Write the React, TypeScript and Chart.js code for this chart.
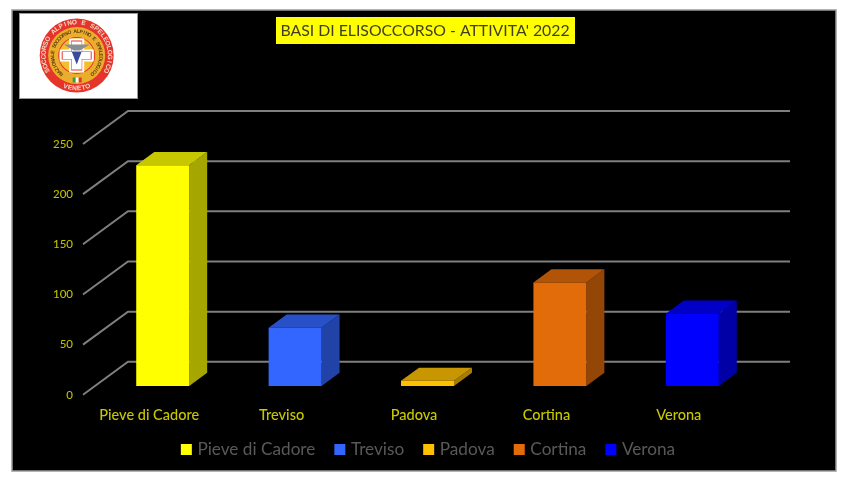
import React, { useEffect, useRef } from "react";
import { Chart, registerables } from "chart.js";

Chart.register(...registerables);

const categories = ["Pieve di Cadore", "Treviso", "Padova", "Cortina", "Verona"];
const values = [220, 58, 5, 103, 72];
const colors = ["#FFFF00", "#3366FF", "#FFC000", "#E36C0A", "#0000FF"];
const titleText = "BASI DI ELISOCCORSO - ATTIVITA' 2022";
const logoTop = "SOCCORSO ALPINO E SPELEOLOGICO";
const logoInner = "NAZIONALE SOCCORSO ALPINO E SPELEOLOGICO";
const logoBottom = "VENETO";

const DEPTH_X = 45;
const DEPTH_Y = 33;
const BAR_START_X = 0.3;
const BAR_START_Y = 0.27;
const BAR_DEPTH = 0.4;
const BAR_WIDTH = 0.4;

function shade(hex: string, f: number) {
  const n = parseInt(hex.slice(1), 16);
  const r = Math.round(((n >> 16) & 255) * f);
  const g = Math.round(((n >> 8) & 255) * f);
  const b = Math.round((n & 255) * f);
  return `rgb(${r},${g},${b})`;
}

function arcText(ctx: CanvasRenderingContext2D, text: string, cx: number, cy: number, r: number, span: number, bottom: boolean) {
  const n = text.length;
  for (let i = 0; i < n; i++) {
    const t = n > 1 ? i / (n - 1) - 0.5 : 0;
    ctx.save();
    if (bottom) {
      const a = Math.PI / 2 - t * span;
      ctx.translate(cx + r * Math.cos(a), cy + r * Math.sin(a));
      ctx.rotate(a - Math.PI / 2);
    } else {
      const a = -Math.PI / 2 + t * span;
      ctx.translate(cx + r * Math.cos(a), cy + r * Math.sin(a));
      ctx.rotate(a + Math.PI / 2);
    }
    ctx.fillText(text[i], 0, 0);
    ctx.restore();
  }
}

function drawLogo(ctx: CanvasRenderingContext2D) {
  ctx.fillStyle = "#FFFFFF";
  ctx.fillRect(20, 14, 117, 84);
  ctx.strokeStyle = "#999999";
  ctx.lineWidth = 1;
  ctx.strokeRect(19.5, 13.5, 118, 85);
  const cx = 76.7, cy = 55.5;
  const circle = (r: number, c: string) => {
    ctx.fillStyle = c;
    ctx.beginPath();
    ctx.arc(cx, cy, r, 0, Math.PI * 2);
    ctx.fill();
  };
  circle(37, "#E5352B");
  circle(28.5, "#EBAE2C");
  circle(18.5, "#E5352B");
  circle(17.5, "#F4BE2E");
  ctx.fillStyle = "#FFFFFF";
  ctx.fillRect(cx - 7.5, cy - 17, 15, 34);
  ctx.fillRect(cx - 17, cy - 6, 34, 12);
  ctx.fillStyle = "#E5352B";
  ctx.fillRect(cx - 5.5, cy - 15, 11, 30);
  ctx.fillRect(cx - 15, cy - 4, 30, 8);
  ctx.fillStyle = "#FFFFFF";
  ctx.fillRect(cx - 5, cy - 14, 10, 28);
  ctx.fillRect(cx - 14, cy - 3.5, 28, 7);
  ctx.fillStyle = "#3A4A9A";
  ctx.beginPath();
  ctx.moveTo(cx - 5, cy - 4);
  ctx.lineTo(cx + 5, cy - 4);
  ctx.lineTo(cx, cy + 9);
  ctx.closePath();
  ctx.fill();
  ctx.fillStyle = "#8A8F96";
  ctx.beginPath();
  ctx.moveTo(cx - 13, cy - 11);
  ctx.lineTo(cx + 13, cy - 11);
  ctx.lineTo(cx + 3, cy - 5);
  ctx.lineTo(cx - 3, cy - 5);
  ctx.closePath();
  ctx.fill();
  ctx.textAlign = "center";
  ctx.textBaseline = "middle";
  ctx.fillStyle = "#F6D9C8";
  ctx.font = "bold 6.5px 'Liberation Sans'";
  arcText(ctx, logoTop, cx, cy, 33, Math.PI * 1.3, false);
  arcText(ctx, logoBottom, cx, cy, 33, Math.PI * 0.22, true);
  ctx.fillStyle = "#5A3A10";
  ctx.font = "bold 5px 'Liberation Sans'";
  arcText(ctx, logoInner, cx, cy, 24, Math.PI * 1.55, false);
  ctx.fillStyle = "#2E9E4A";
  ctx.fillRect(cx - 4, cy + 22, 3, 5);
  ctx.fillStyle = "#FFFFFF";
  ctx.fillRect(cx - 1, cy + 22, 3, 5);
  ctx.fillStyle = "#D93A2B";
  ctx.fillRect(cx + 2, cy + 22, 3, 5);
}

const scenePlugin = {
  id: "scene",
  afterLayout(chart: any) {
    // The plot sits left of the page centre; title and legend are centred on the page.
    chart.legend.left += 50;
    chart.legend.right += 50;
    chart.legend.top -= 14;
    chart.legend.bottom -= 14;
    chart.titleBlock.left += 45.5;
    chart.titleBlock.right += 45.5;
  },
  beforeDraw(chart: any) {
    const ctx: CanvasRenderingContext2D = chart.ctx;
    ctx.save();
    ctx.fillStyle = "#FFFFFF";
    ctx.fillRect(0, 0, chart.width, chart.height);
    ctx.fillStyle = "#000000";
    ctx.fillRect(12, 10, 824, 461);
    ctx.strokeStyle = "#9A9A9A";
    ctx.lineWidth = 1.5;
    ctx.strokeRect(12, 10, 824, 461);
    drawLogo(ctx);
    ctx.fillStyle = "#FFFF00";
    ctx.fillRect(276, 17, 299, 27);
    ctx.restore();
  },
  beforeDatasetsDraw(chart: any) {
    const ctx: CanvasRenderingContext2D = chart.ctx;
    const { x, y } = chart.scales;
    ctx.save();
    ctx.strokeStyle = "#7F7F7F";
    ctx.lineWidth = 2;
    for (const t of y.ticks) {
      const py = y.getPixelForValue(t.value);
      ctx.beginPath();
      ctx.moveTo(x.left, py);
      ctx.lineTo(x.left + DEPTH_X, py - DEPTH_Y);
      ctx.lineTo(x.right + DEPTH_X, py - DEPTH_Y);
      ctx.stroke();
    }
    const step = x.getPixelForValue(1) - x.getPixelForValue(0);
    const w = step * BAR_WIDTH;
    const dx = DEPTH_X * BAR_DEPTH;
    const dy = DEPTH_Y * BAR_DEPTH;
    const ox = DEPTH_X * BAR_START_X;
    const oy = DEPTH_Y * BAR_START_Y;
    const base = y.getPixelForValue(0) - oy;
    values.forEach((v, i) => {
      const l = x.getPixelForValue(i) + ox - w / 2;
      const r = l + w;
      const top = y.getPixelForValue(v) - oy;
      const poly = (c: string, pts: number[][]) => {
        ctx.fillStyle = c;
        ctx.beginPath();
        pts.forEach((p, k) => (k ? ctx.lineTo(p[0], p[1]) : ctx.moveTo(p[0], p[1])));
        ctx.closePath();
        ctx.fill();
      };
      poly(shade(colors[i], 0.65), [[r, top], [r + dx, top - dy], [r + dx, base - dy], [r, base]]);
      poly(shade(colors[i], 0.78), [[l, top], [l + dx, top - dy], [r + dx, top - dy], [r, top]]);
      poly(colors[i], [[l, top], [r, top], [r, base], [l, base]]);
    });
    ctx.restore();
  },
};

export default function App() {
  const ref = useRef<HTMLCanvasElement>(null);
  useEffect(() => {
    document.body.style.margin = "0";
    const chart = new Chart(ref.current!, {
      type: "bar",
      data: {
        labels: categories,
        datasets: [{ label: "Attività", data: values, backgroundColor: "rgba(0,0,0,0)", borderWidth: 0 }],
      },
      plugins: [scenePlugin],
      options: {
        animation: false,
        responsive: false,
        devicePixelRatio: 1,
        layout: { padding: { left: 14, right: 108, top: 0, bottom: 0 } },
        scales: {
          x: {
            grid: { display: false },
            border: { display: false },
            ticks: { color: "#C8C800", font: { family: "Lato", size: 14.5, weight: "500" }, padding: 4, maxRotation: 0 },
            afterFit(s: any) { s.height = 38; },
          },
          y: {
            min: 0,
            max: 250,
            grid: { display: false },
            border: { display: false },
            ticks: { stepSize: 50, color: "#BFBF00", font: { family: "Lato", size: 11.5, weight: "500" }, padding: 2 },
            afterFit(s: any) { s.width = 69; },
          },
        },
        plugins: {
          title: {
            display: true,
            text: titleText,
            color: "#404020",
            font: { family: "Lato", size: 15.8, weight: "normal" },
            padding: { top: 21, bottom: 104 },
          },
          legend: {
            position: "bottom",
            labels: {
              color: "#595959",
              font: { family: "Lato", size: 17.2 },
              boxWidth: 5,
              boxHeight: 5,
              padding: 22,
              generateLabels: () =>
                categories.map((c, i) => ({
                  text: c,
                  fillStyle: colors[i],
                  strokeStyle: colors[i],
                  fontColor: "#595959",
                  lineWidth: 6,
                  index: i,
                })),
            },
          },
          tooltip: { enabled: false },
        },
      } as any,
    });
    return () => chart.destroy();
  }, []);
  return (
    <canvas
      ref={ref}
      width={853}
      height={482}
      style={{ display: "block", width: 853, height: 482, filter: "blur(0.5px)" }}
    />
  );
}
